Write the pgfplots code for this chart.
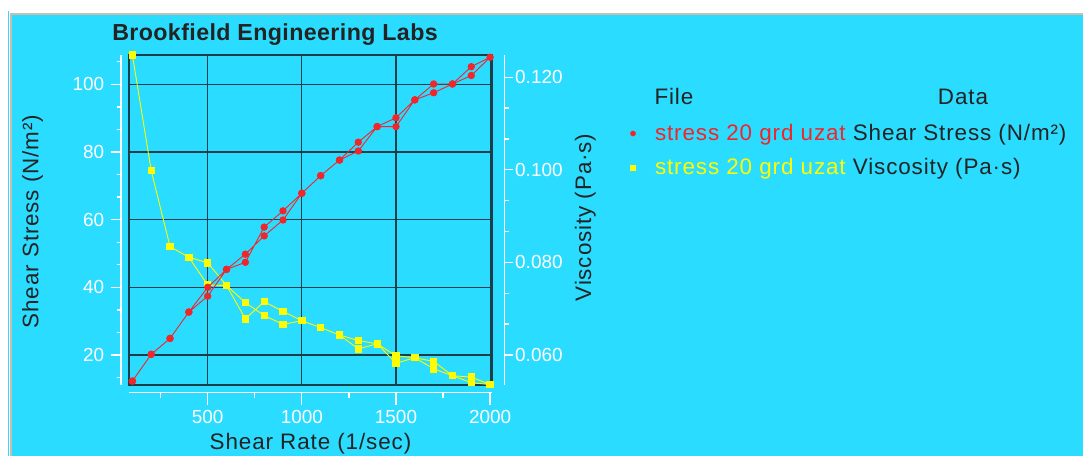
\documentclass[border=0pt]{standalone}
\usepackage{pgfplots}
\pgfplotsset{compat=1.18}
\usepackage{fontspec}
\setmainfont{Liberation Sans}
\newfontfamily\lblfont[LetterSpace=4]{Liberation Sans}
\newfontfamily\titlefont[LetterSpace=1.7]{Liberation Sans}
\definecolor{bgcyan}{RGB}{42,220,255}
\definecolor{bordergray}{RGB}{200,190,178}
\definecolor{gridc}{RGB}{28,62,72}
\definecolor{textc}{RGB}{35,35,35}
\definecolor{legred}{RGB}{240,38,42}
\definecolor{legyel}{RGB}{255,252,0}

\pgfplotstableread{
x y
100 12.3
200 20.2
300 24.9
400 32.7
500 40.0
600 45.3
700 49.8
800 55.2
900 59.9
1000 67.8
1100 73.0
1200 77.6
1300 82.9
1400 87.5
1500 90.1
1600 95.4
1700 100.1
1800 100.1
1900 105.2
2000 108.0
1900 102.6
1800 100.1
1700 97.5
1600 95.4
1500 87.5
1400 87.5
1300 80.3
1200 77.6
1100 73.0
1000 67.8
900 62.6
800 57.8
700 47.4
600 45.3
500 37.4
400 32.7
300 24.9
200 20.2
100 12.3
}\stresstable

\pgfplotstableread{
x y
100 0.1248
200 0.0998
300 0.0834
400 0.0811
500 0.0799
600 0.0750
700 0.0713
800 0.0685
900 0.0666
1000 0.0674
1100 0.0659
1200 0.0643
1300 0.0631
1400 0.0624
1500 0.0598
1600 0.0594
1700 0.0586
1800 0.0555
1900 0.0552
2000 0.0536
1900 0.0540
1800 0.0555
1700 0.0570
1600 0.0594
1500 0.0582
1400 0.0624
1300 0.0613
1200 0.0643
1100 0.0659
1000 0.0674
900 0.0694
800 0.0715
700 0.0678
600 0.0750
500 0.0751
400 0.0811
300 0.0834
200 0.0998
100 0.1248
}\visctable

\pgfplotsset{
  base/.style={scale only axis, width=363bp, height=330bp, anchor=south west,
    xmin=82, xmax=2010, scaled x ticks=false, scaled y ticks=false,
    /pgf/number format/assume math mode=true,
    /pgf/number format/1000 sep={},
    tick label style={font=\fontsize{19}{19}\selectfont, text=white},
    tick align=outside,
    tick style={draw=white, line width=1.3bp},
    axis line style={draw=white, line width=1.5bp, -},
  },
}

\begin{document}
\begin{tikzpicture}
\fill[white] (0bp,0bp) rectangle (1083bp,-456bp);
\fill[bgcyan] (12bp,-15bp) rectangle (1083bp,-456bp);
\draw[bordergray, line width=2bp] (11bp,-456bp) -- (11bp,-14bp) -- (1083bp,-14bp);
\draw[bgcyan, line width=1bp] (8.5bp,-11bp) -- (8.5bp,-456bp);

% grid, frame, labels, legend
\begin{axis}[base, at={(129bp,-385bp)}, ymin=11.135, ymax=108.66, clip=false,
  xtick={500,1000,1500,2000}, ytick={20,40,60,80,100},
  xticklabels={}, yticklabels={}, major tick length=0pt,
  grid=major, major grid style={draw=gridc, line width=1.2bp},
  axis line style={draw=gridc, line width=1.2bp},
  title={\bfseries Brookfield Engineering Labs},
  title style={at={(axis description cs:0.4022,1.0267)}, anchor=base,
    font=\titlefont\fontsize{23.3}{24}\selectfont, text=textc},
  xlabel={Shear Rate (1/sec)},
  xlabel style={at={(axis description cs:0.5,-0.19485)}, anchor=base,
    font=\lblfont\fontsize{22.5}{24}\selectfont, text=textc},
  ylabel={Shear Stress (N/m²)},
  ylabel style={at={(axis description cs:-0.24986,0.49545)}, rotate=0, anchor=base,
    font=\lblfont\fontsize{22.5}{24}\selectfont, text=textc},
  legend image code/.code={\draw[#1] plot coordinates {(0bp,0bp)};},
  legend cell align=left,
  legend style={at={(axis description cs:1.38127,0.79697)}, anchor=north west,
    draw=none, fill=none, inner sep=0pt, outer sep=0pt, row sep=11bp, column sep=19.4bp,
    nodes={inner sep=0pt, text height=18bp, text depth=5bp,
      font=\lblfont\fontsize{22.5}{24}\selectfont, text=textc}},
]
\addlegendimage{only marks, mark=*, mark size=2.6bp, color=legred}
\addlegendentry{{\color{legred}stress 20 grd uzat} Shear Stress (N/m²)}
\addlegendimage{only marks, mark=square*, mark size=2.6bp, color=legyel}
\addlegendentry{{\color{legyel}stress 20 grd uzat} Viscosity (Pa·s)}
\node[rotate=90, anchor=base, font=\lblfont\fontsize{22.5}{24}\selectfont, text=textc]
  at (axis description cs:1.27273,0.50758) {Viscosity (Pa·s)};
\node[anchor=base west, font=\lblfont\fontsize{22.5}{24}\selectfont, text=textc]
  at (axis description cs:1.43802,0.85061) {File};
\node[anchor=base, font=\lblfont\fontsize{22.5}{24}\selectfont, text=textc]
  at (axis description cs:2.29752,0.85061) {Data};
\end{axis}

% viscosity plot
\begin{axis}[base, at={(129bp,-385bp)}, ymin=0.0535, ymax=0.1248, hide axis]
\addplot[color=legyel, line width=0.9bp, mark=square*, mark size=3.2bp,
  mark options={solid, fill=legyel, draw=legyel}] table[x=x, y=y] {\visctable};
\end{axis}

% stress plot
\begin{axis}[base, at={(129bp,-385bp)}, ymin=11.135, ymax=108.66, hide axis]
\addplot[color=legred, line width=0.9bp, mark=*, mark size=3.2bp,
  mark options={solid, fill=legred, draw=legred}] table[x=x, y=y] {\stresstable};
\end{axis}

% left ticks
\begin{axis}[base, at={(121bp,-385bp)}, ymin=11.135, ymax=108.66,
  axis y line*=left, axis x line=none,
  ytick={20,40,60,80,100},
  minor ytick={13.333,26.667,33.333,46.667,53.333,66.667,73.333,86.667,93.333,106.667},
  major tick length=9.5bp, minor tick length=4.5bp,
  yticklabel style={anchor=east, inner sep=0pt, xshift=-7.2bp},
]
\end{axis}

% bottom ticks
\begin{axis}[base, at={(129bp,-392.5bp)}, ymin=0, ymax=1,
  axis x line*=bottom, axis y line=none,
  xtick={500,1000,1500,2000}, minor xtick={250,750,1250,1750},
  major tick length=12.5bp, minor tick length=5bp,
  xticklabel style={anchor=base, inner sep=0pt, yshift=-18.5bp},
]
\end{axis}

% right ticks
\begin{axis}[base, at={(141.3bp,-385bp)}, ymin=0.0535, ymax=0.1248,
  axis y line*=right, axis x line=none,
  ytick={0.06,0.08,0.1,0.12},
  minor ytick={0.06667,0.07333,0.08667,0.09333,0.10667,0.11333},
  /pgf/number format/fixed, /pgf/number format/fixed zerofill, /pgf/number format/precision=3,
  major tick length=8.7bp, minor tick length=4.5bp,
  yticklabel style={anchor=west, inner sep=0pt, xshift=2bp},
]
\end{axis}

\pgfresetboundingbox
\path (0bp,0bp) rectangle (1083bp,-456bp);
\end{tikzpicture}
\end{document}
